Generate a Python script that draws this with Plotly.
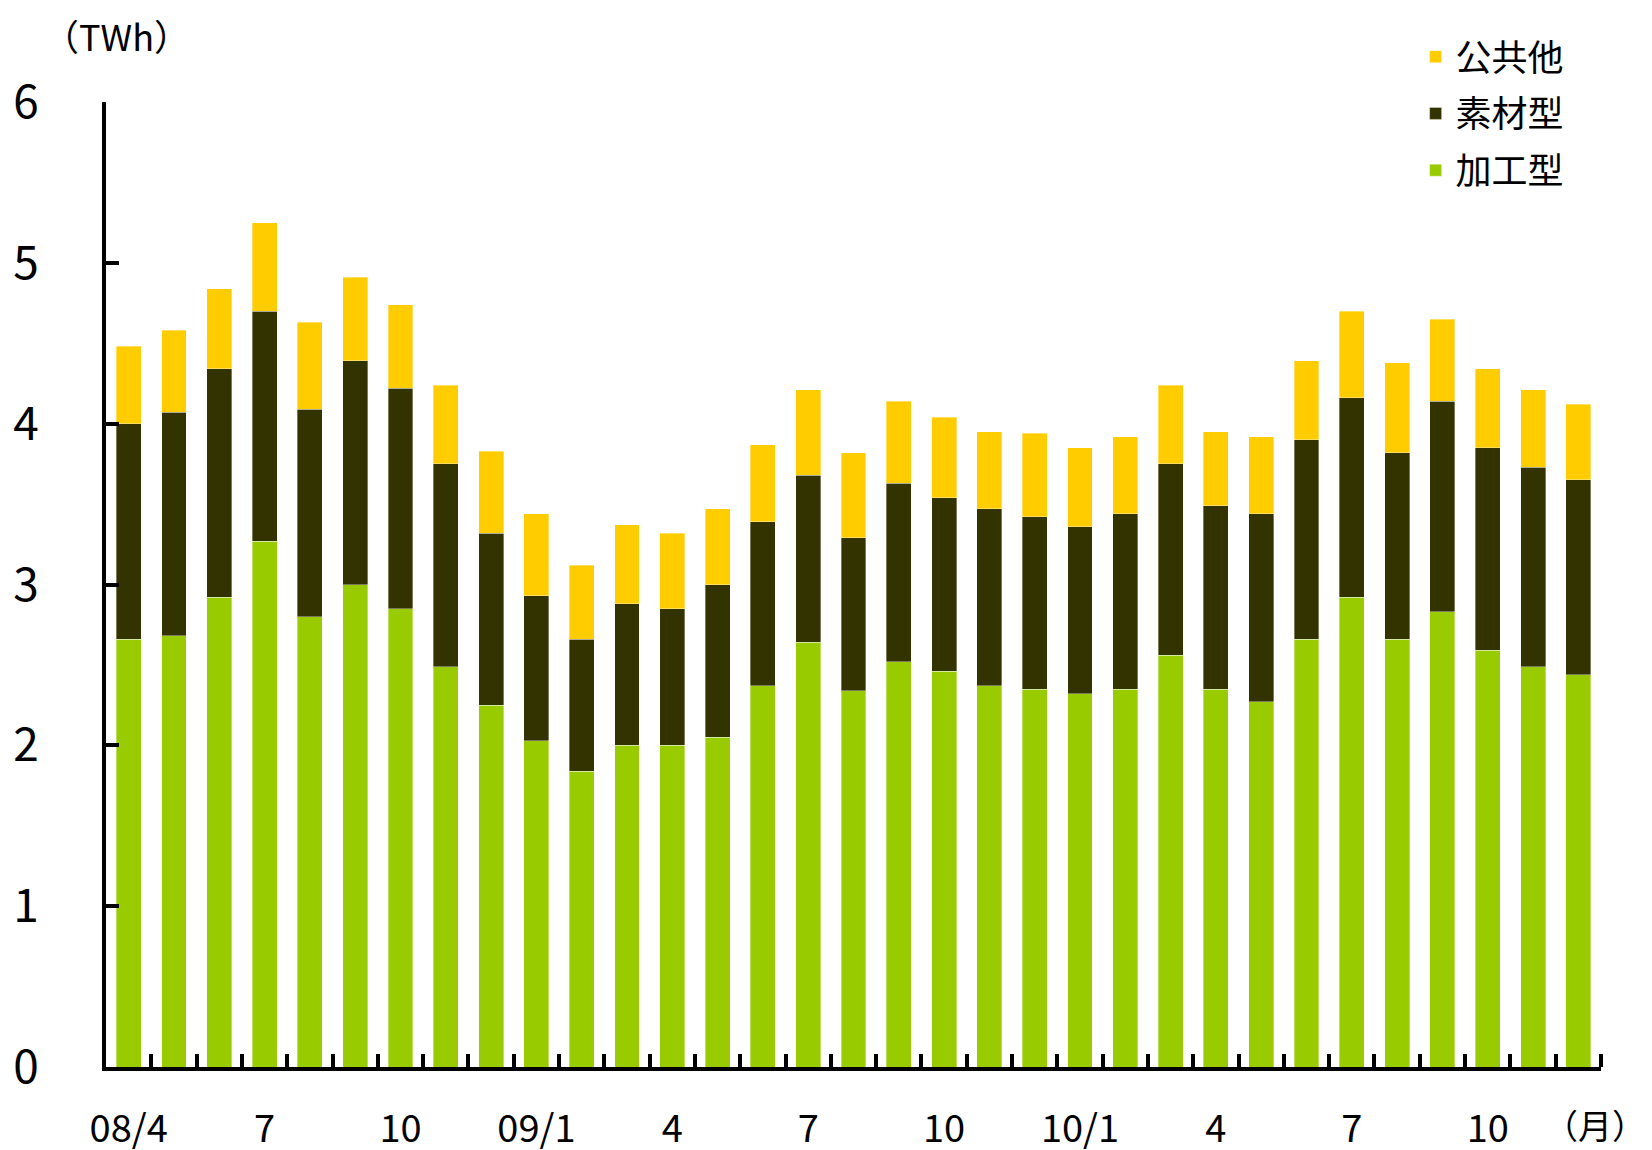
import plotly.graph_objects as go

# Month labels (33 months, 08/4 .. 10/12); blank = no label shown
tick_labels = ["08/4", "", "", "7", "", "", "10", "", "", "09/1", "", "",
               "4", "", "", "7", "", "", "10", "", "", "10/1", "", "",
               "4", "", "", "7", "", "", "10", "", ""]

# 加工型 (processing industries)
kakou = [2.66, 2.68, 2.92, 3.27, 2.80, 3.00, 2.85, 2.49, 2.25, 2.03, 1.84, 2.00,
         2.00, 2.05, 2.37, 2.64, 2.34, 2.52, 2.46, 2.37, 2.35, 2.32, 2.35, 2.56,
         2.35, 2.27, 2.66, 2.92, 2.66, 2.83, 2.59, 2.49, 2.44]
# 素材型 (materials industries)
sozai = [1.34, 1.39, 1.42, 1.43, 1.29, 1.39, 1.37, 1.26, 1.07, 0.90, 0.82, 0.88,
         0.85, 0.95, 1.02, 1.04, 0.95, 1.11, 1.08, 1.10, 1.07, 1.04, 1.09, 1.19,
         1.14, 1.17, 1.24, 1.24, 1.16, 1.31, 1.26, 1.24, 1.21]
# 公共他 (public and others)
koukyou = [0.48, 0.51, 0.50, 0.55, 0.54, 0.52, 0.52, 0.49, 0.51, 0.51, 0.46, 0.49,
           0.47, 0.47, 0.48, 0.53, 0.53, 0.51, 0.50, 0.48, 0.52, 0.49, 0.48, 0.49,
           0.46, 0.48, 0.49, 0.54, 0.56, 0.51, 0.49, 0.48, 0.47]

FONT = "Noto Sans CJK JP"
x = list(range(len(tick_labels)))
tickvals = [i for i, t in enumerate(tick_labels) if t]
ticktext = [t for t in tick_labels if t]

fig = go.Figure()
series = [("加工型", kakou, "#99CC00", 3), ("素材型", sozai, "#333300", 2), ("公共他", koukyou, "#FFCC00", 1)]
for name, vals, col, rank in series:
    fig.add_trace(go.Bar(x=x, y=vals, name=name, legendgroup=name, legendrank=rank,
                         marker=dict(color=col, line=dict(width=0.8, color="rgba(255,255,255,0.45)"))))

fig.update_layout(
    barmode="stack",
    bargap=0.45,
    width=1652, height=1150,
    margin=dict(l=98, r=59, t=94, b=91),
    paper_bgcolor="white", plot_bgcolor="white",
    font=dict(family=FONT, color="black"),
    legend=dict(x=0.876, y=1.078, xanchor="left", yanchor="top",
                traceorder="grouped", tracegroupgap=7,
                font=dict(size=36, family=FONT), bgcolor="rgba(0,0,0,0)"),
    xaxis=dict(range=[-0.5, len(x) - 0.5], tickmode="array", tickvals=tickvals, ticktext=ticktext,
               ticks="", showline=True, linecolor="black", linewidth=4, automargin=False,
               showgrid=False, zeroline=False, tickfont=dict(size=38, family=FONT),
               ticklabelstandoff=25,
               minor=dict(tickmode="array", tickvals=[i + 0.5 for i in x], ticks="inside",
                          ticklen=13, tickwidth=4, tickcolor="black", showgrid=False)),
    yaxis=dict(range=[0, 6], tickmode="array", tickvals=[0, 1, 2, 3, 4, 5, 6],
               ticks="inside", ticklen=13, tickwidth=4, tickcolor="black", automargin=False,
               showline=True, linecolor="black", linewidth=4, showgrid=False, zeroline=False,
               tickfont=dict(size=46, family=FONT), ticklabelstandoff=54),
    annotations=[
        dict(text="（TWh）", xref="paper", yref="paper", x=0.0067, y=1.069,
             xanchor="center", yanchor="middle", showarrow=False, font=dict(size=36, family=FONT)),
        dict(text="（月）", xref="paper", yref="paper", x=0.996, y=-0.060,
             xanchor="center", yanchor="middle", showarrow=False, font=dict(size=34, family=FONT)),
    ],
)

fig.write_html("out.html")
